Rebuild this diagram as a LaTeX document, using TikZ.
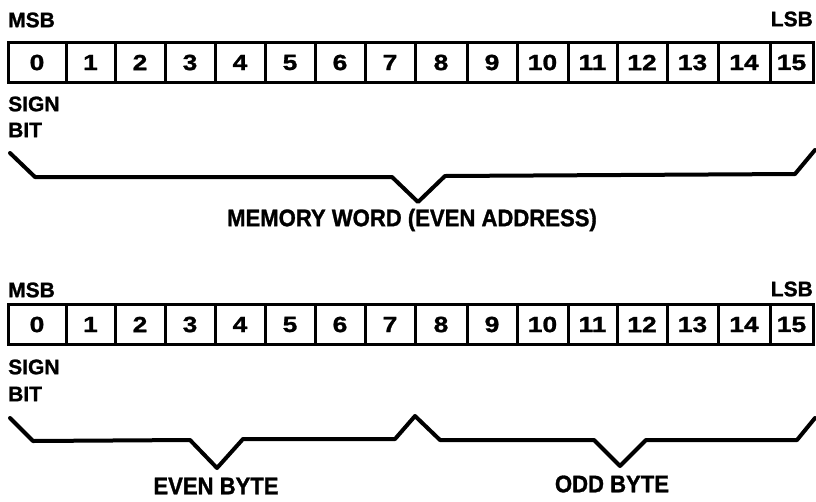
\documentclass[tikz,border=0pt]{standalone}
\usepackage{fontspec}
\setmainfont{Liberation Sans}
\newfontfamily\bitfont{Liberation Sans}[FakeStretch=1.2, FakeBold=1.2]
\newfontfamily\tagfont{Liberation Sans}[FakeBold=1.2]
\newfontfamily\capfont{Liberation Sans}[FakeStretch=0.92, FakeBold=1.2]
\usetikzlibrary{calc}

\begin{document}
\begin{tikzpicture}[x=1pt, y=-1pt,
  bitcell/.style={draw, line width=3pt, inner sep=0pt, minimum height=40pt,
    font=\bitfont\bfseries\fontsize{22}{26}\selectfont},
  tag/.style={inner sep=0pt, font=\tagfont\bfseries\fontsize{21}{25}\selectfont},
  caption/.style={inner sep=0pt, font=\capfont\bfseries\fontsize{24}{28}\selectfont},
  brace/.style={line width=4pt, line join=round, line cap=round}]
\useasboundingbox (0,0) rectangle (816,501);

% Bit cells of both words
\foreach \n/\l/\r in {0/8/66, 1/66/115, 2/115/165, 3/165/215, 4/215/265,
    5/265/315, 6/315/365, 7/365/415, 8/415/467, 9/467/517, 10/517/568,
    11/568/617, 12/617/667, 13/667/718, 14/718/770, 15/770/813} {
  \pgfmathsetmacro{\w}{\r-\l}
  \node[bitcell, minimum width=\w pt] (wa\n) at ({(\l+\r)/2}, 62.5) {\n};
  \node[bitcell, minimum width=\w pt] (wb\n) at ({(\l+\r)/2}, 324.5) {\n};
}

% Labels of the upper word
\node[tag, anchor=west] (msbA) at (8,20) {MSB};
\node[tag, anchor=east] (lsbA) at (813,19) {LSB};
\node[tag, anchor=west] (signA) at (8,104) {SIGN};
\node[tag, anchor=west] (bitA) at (8,130) {BIT};

% Brace under the memory word
\draw[brace] (10,153) -- (35,177) -- (392,177) -- (418,202) -- (445,176)
  -- (795,174) -- (815,150);
\node[caption] (word) at (412,220) {MEMORY WORD (EVEN ADDRESS)};

% Labels of the lower word
\node[tag, anchor=west] (msbB) at (8,290) {MSB};
\node[tag, anchor=east] (lsbB) at (813,289) {LSB};
\node[tag, anchor=west] (signB) at (8,367) {SIGN};
\node[tag, anchor=west] (bitB) at (8,394) {BIT};

% Braces under the two bytes
\draw[brace] (10,418) -- (33,441) -- (190,440) -- (217,468) -- (243,439)
  -- (395,439) -- (415,416) -- (440,440) -- (594,440) -- (620,466)
  -- (646,440) -- (797,440) -- (815,418);
\node[caption] (even) at (216,486) {EVEN BYTE};
\node[caption] (odd) at (612,484) {ODD BYTE};
\end{tikzpicture}
\end{document}
